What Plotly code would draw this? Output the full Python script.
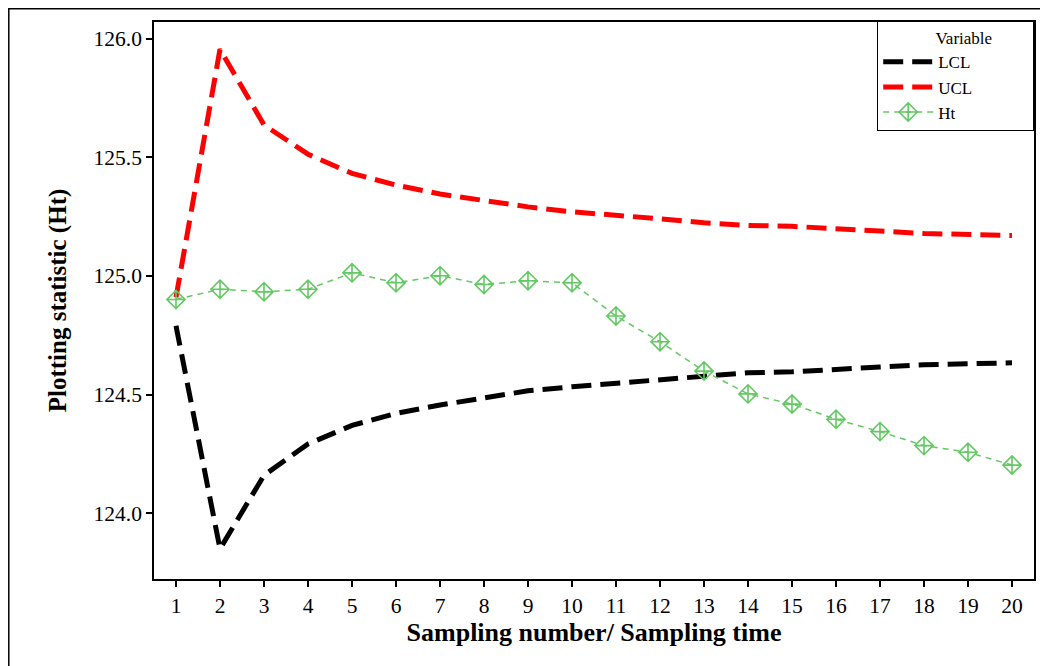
import plotly.graph_objects as go

samples = list(range(1, 21))
lcl = [124.79, 123.85, 124.16, 124.292, 124.37, 124.421, 124.456, 124.488, 124.516, 124.533,
       124.548, 124.564, 124.581, 124.592, 124.596, 124.608, 124.616, 124.626, 124.629, 124.634]
ucl = [124.91, 125.955, 125.636, 125.513, 125.432, 125.383, 125.345, 125.316, 125.291, 125.270,
       125.257, 125.241, 125.224, 125.213, 125.209, 125.197, 125.189, 125.179, 125.176, 125.170]
ht = [124.901, 124.944, 124.933, 124.944, 125.013, 124.971, 125.001, 124.964, 124.980, 124.971,
      124.831, 124.723, 124.599, 124.503, 124.460, 124.396, 124.344, 124.285, 124.257, 124.203]

y_ticks = [124.0, 124.5, 125.0, 125.5, 126.0]
x_title = "Sampling number/ Sampling time"
y_title = "Plotting statistic (Ht)"
legend_title = "Variable"

FONT = "Liberation Serif, Times New Roman, serif"
NB = "\u00a0"

# the page body has an 8px margin: figure spans page x 8..1048, y 8..666
W, H = 1040, 658
L, T, R, B = 146, 14, 14, 87
PW, PH = W - L - R, H - T - B

fig = go.Figure()
fig.add_trace(go.Scatter(x=samples, y=lcl, name="LCL", mode="lines",
                         line=dict(color="black", width=5, dash="20px,9px")))
fig.add_trace(go.Scatter(x=samples, y=ucl, name="UCL", mode="lines",
                         line=dict(color="red", width=5, dash="20px,9px")))
fig.add_trace(go.Scatter(x=samples, y=ht, name="Ht", mode="lines+markers",
                         line=dict(color="rgb(100,200,100)", width=1.5, dash="6px,5px"),
                         marker=dict(symbol="diamond-cross-open", size=14,
                                     color="rgb(100,200,100)",
                                     line=dict(width=1.6, color="rgb(100,200,100)"))))

fig.update_layout(
    width=W, height=H,
    margin=dict(l=L, r=R, t=T, b=B),
    paper_bgcolor="white", plot_bgcolor="white",
    font=dict(family=FONT, color="black", size=20),
    showlegend=True,
    legend=dict(
        x=1, xanchor="right", y=1 + 1.0 / PH, yanchor="top",
        bgcolor="white", bordercolor="black", borderwidth=1.2,
        font=dict(family=FONT, size=17, color="black"),
        title=dict(text=NB * 13 + legend_title + NB * 9, side="top",
                   font=dict(family=FONT, size=17)),
        itemwidth=50, tracegroupgap=0,
    ),
    xaxis=dict(
        range=[0.5, 20.5], tickvals=samples, ticktext=[str(s) for s in samples],
        showline=True, linecolor="black", linewidth=1.5, mirror=True,
        ticks="outside", ticklen=6, tickwidth=1.5, tickcolor="black",
        showgrid=False, zeroline=False,
        tickfont=dict(family=FONT, size=21.5, color="black"),
        title=dict(text="<b>" + x_title + "</b>", standoff=4,
                   font=dict(family=FONT, size=26, color="black")),
    ),
    yaxis=dict(
        range=[123.723, 126.07], tickvals=y_ticks, ticktext=[f"{v:.1f}" for v in y_ticks],
        showline=True, linecolor="black", linewidth=1.5, mirror=True,
        ticks="outside", ticklen=6, tickwidth=1.5, tickcolor="black",
        showgrid=False, zeroline=False,
        tickfont=dict(family=FONT, size=21.5, color="black"),
        title=dict(text="<b>" + y_title + "</b>", standoff=20,
                   font=dict(family=FONT, size=25, color="black")),
    ),
)

# outer frame of the figure
fig.add_shape(type="rect", xref="paper", yref="paper",
              x0=(0.8 - L) / PW, x1=(W + 20 - L) / PW,
              y0=(H - B - (H + 20)) / PH, y1=(H - B - 0.8) / PH,
              line=dict(color="black", width=1.5), fillcolor="rgba(0,0,0,0)", layer="below")

fig.write_html("out.html")
